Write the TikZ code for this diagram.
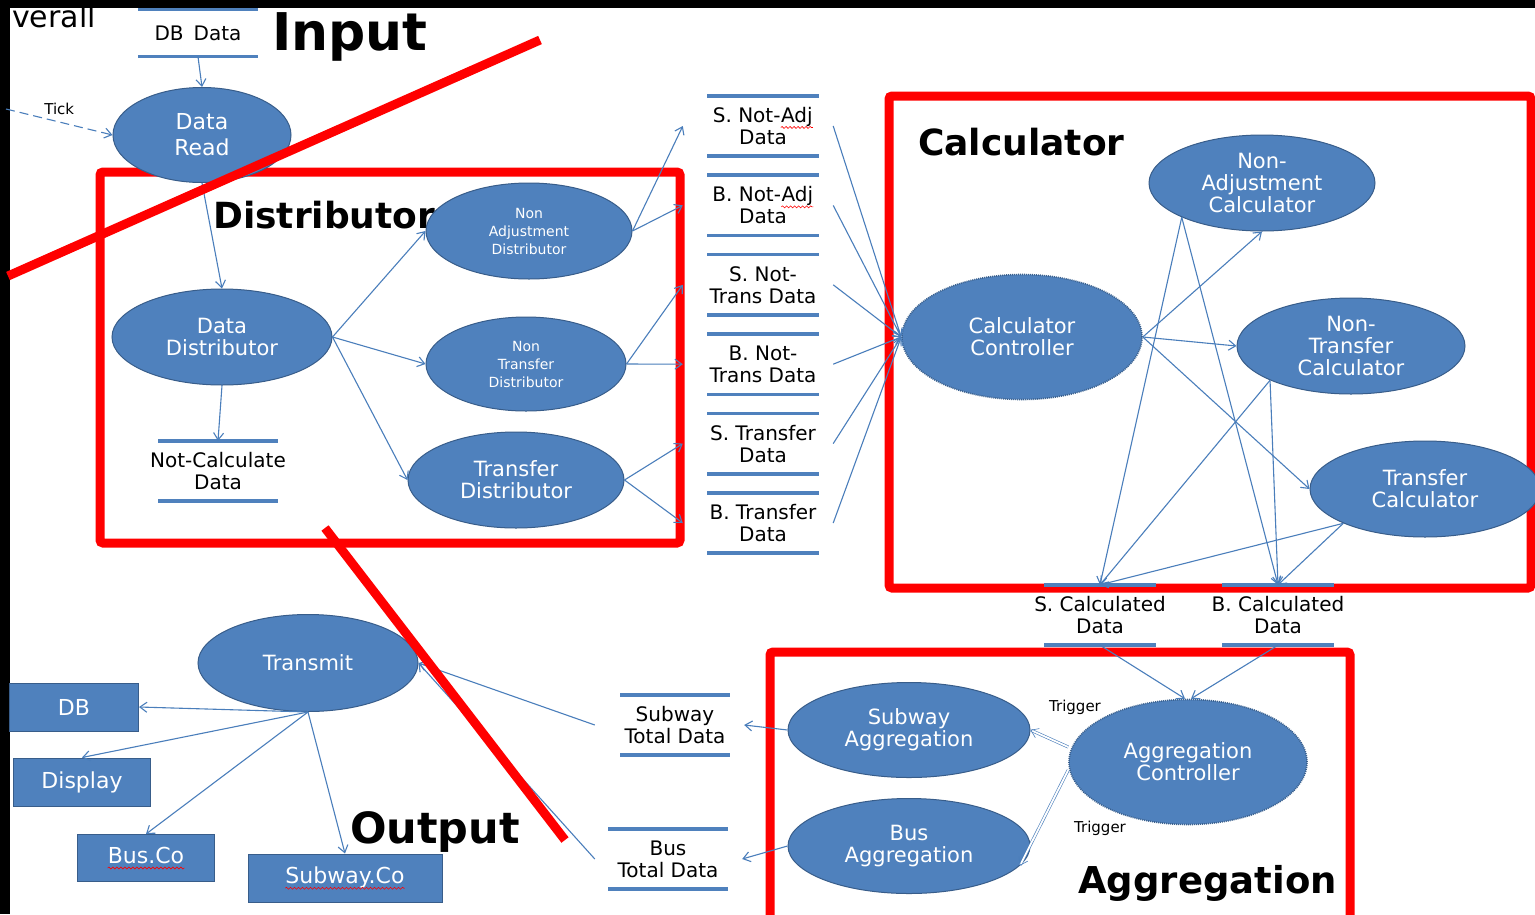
\documentclass[tikz,border=0pt]{standalone}
\usepackage{fontspec}
\setmainfont{DejaVu Sans}
\usetikzlibrary{arrows.meta, shapes.geometric, positioning, decorations.pathmorphing}

\definecolor{ellblue}{HTML}{4F81BD}
\definecolor{ellline}{HTML}{385D8A}
\definecolor{flowblue}{HTML}{4A7EBB}
\definecolor{zonered}{HTML}{FF0000}

% red spell-check squiggle under a word
\newcommand{\spellwave}[1]{\tikz[baseline=(w.base)]{\node[rectangle, draw=none, fill=none, anchor=center,
    inner sep=0pt, minimum width=0pt, minimum height=0pt] (w) {#1};
  \draw[zonered, line width=0.6pt, decorate, decoration={snake, amplitude=1pt, segment length=4pt}]
    ([yshift=-5pt]w.base west) -- ([yshift=-5pt]w.base east);}}

\tikzset{
  proc/.style={ellipse, fill=ellblue, draw=ellline, line width=1pt, text=white,
    align=center, inner sep=0pt, font=\fontsize{21}{22}\selectfont},
  tinyproc/.style={proc, font=\fontsize{14}{18}\selectfont},
  ctrl/.style={proc, draw=ellblue!75!black, densely dotted, line width=1.6pt},
  store/.style={align=center, inner sep=0pt, minimum width=112pt, minimum height=60pt,
    font=\fontsize{20}{22}\selectfont},
  storeline/.style={draw=ellblue, line width=3.5pt},
  sink/.style={fill=ellblue, draw=ellline, line width=1pt, text=white, inner sep=0pt,
    font=\fontsize{22}{24}\selectfont},
  flow/.style={draw=flowblue, line width=1.1pt, -{Straight Barb[length=7pt, width=10pt]}},
  trig/.style={flow, double=white, double distance=1.8pt, line width=0.6pt},
  zone/.style={draw=zonered, line width=9pt, rounded corners=3pt},
  cut/.style={draw=zonered, line width=9pt},
  zonelabel/.style={anchor=base west, inner sep=0pt, font=\fontsize{36}{40}\selectfont\bfseries},
  note/.style={inner sep=0pt, font=\fontsize{15}{17}\selectfont},
}

\begin{document}
\begin{tikzpicture}[x=1pt, y=-1pt, node distance=19pt]
  \useasboundingbox (0,0) rectangle (1535,914);
  \clip (0,0) rectangle (1535,914);
  \fill[black] (0,0) rectangle (1535,914);
  \fill[white] (10,8) rectangle (1535,914);

  % red zones
  \draw[zone] (100,172) rectangle (680,543);
  \draw[zone] (889,96) rectangle (1531,588);
  \draw[zone] (770,652) rectangle (1350,930);

  \node[anchor=base west, inner sep=0pt, font=\fontsize{30}{32}\selectfont] (overall) at (12,27) {verall};
  \node[zonelabel, font=\fontsize{52}{56}\selectfont\bfseries] (inlabel) at (272,50) {Input};
  \node[zonelabel] (distlabel) at (213,228) {Distributor};
  \node[zonelabel] (calclabel) at (918,155) {Calculator};
  \node[zonelabel, font=\fontsize{43}{46}\selectfont\bfseries] (outlabel) at (350,843) {Output};
  \node[zonelabel, font=\fontsize{37}{40}\selectfont\bfseries] (agglabel) at (1078,893) {Aggregation};

  % input
  \node[store, minimum width=120pt, minimum height=47pt] (dbdata) at (198,33) {DB\enspace Data};
  \node[proc, minimum width=178pt, minimum height=95pt, font=\fontsize{22}{26}\selectfont] (dataread) at (202,135) {Data\\Read};
  \coordinate (tick) at (6,109);

  % distributor
  \node[proc, minimum width=220pt, minimum height=96pt] (datadist) at (222,337) {Data\\Distributor};
  \node[tinyproc, minimum width=206pt, minimum height=96pt] (nadjdist) at (529,231) {Non\\Adjustment\\Distributor};
  \node[tinyproc, minimum width=200pt, minimum height=94pt] (ntrdist) at (526,364) {Non\\Transfer\\Distributor};
  \node[proc, minimum width=216pt, minimum height=96pt] (trdist) at (516,480) {Transfer\\Distributor};
  \node[store, minimum width=120pt] (notcalc) at (218,471) {Not-Calculate\\Data};

  \node[store] (snadj) at (763,126) {S. Not-\spellwave{Adj}\\Data};
  \node[store, below=of snadj] (bnadj) {B. Not-\spellwave{Adj}\\Data};
  \node[store, below=of bnadj] (sntr) {S. Not-\\Trans Data};
  \node[store, below=of sntr] (bntr) {B. Not-\\Trans Data};
  \node[store, below=of bntr] (strn) {S. Transfer\\Data};
  \node[store, below=of strn] (btrn) {B. Transfer\\Data};

  % calculator
  \node[ctrl, minimum width=240pt, minimum height=125pt] (calcctrl) at (1022,337) {Calculator\\Controller};
  \node[proc, minimum width=226pt, minimum height=96pt] (nadjcalc) at (1262,183) {Non-\\Adjustment\\Calculator};
  \node[proc, minimum width=228pt, minimum height=96pt] (ntrcalc) at (1351,346) {Non-\\Transfer\\Calculator};
  \node[proc, minimum width=230pt, minimum height=96pt] (trcalc) at (1425,489) {Transfer\\Calculator};
  \node[store] (scalc) at (1100,615) {S. Calculated\\Data};
  \node[store] (bcalc) at (1278,615) {B. Calculated\\Data};

  % aggregation
  \node[ctrl, minimum width=238pt, minimum height=125pt] (aggctrl) at (1188,762) {Aggregation\\Controller};
  \node[proc, minimum width=242pt, minimum height=95pt] (subagg) at (909,730) {Subway\\Aggregation};
  \node[proc, minimum width=242pt, minimum height=95pt] (busagg) at (909,846) {Bus\\Aggregation};
  \node[store, minimum width=110pt] (subtotal) at (675,725) {Subway\\Total Data};
  \node[store, minimum width=120pt] (bustotal) at (668,859) {Bus\\Total Data};
  \node[note] (trigup) at (1075,707) {Trigger};
  \node[note] (trigdown) at (1100,828) {Trigger};

  % output
  \node[proc, minimum width=220pt, minimum height=97pt] (transmit) at (308,663) {Transmit};
  \node[sink, minimum width=129pt, minimum height=48pt] (db) at (74,707) {DB};
  \node[sink, minimum width=137pt, minimum height=48pt] (display) at (82,782) {Display};
  \node[sink, minimum width=137pt, minimum height=47pt] (busco) at (146,858) {\spellwave{Bus.Co}};
  \node[sink, minimum width=194pt, minimum height=48pt] (subwayco) at (345,878) {\spellwave{Subway.Co}};

  \foreach \s/\w in {dbdata/60, notcalc/60, snadj/56, bnadj/56, sntr/56, bntr/56, strn/56, btrn/56,
                     scalc/56, bcalc/56, subtotal/55, bustotal/60}
    \draw[storeline] (\s.north) ++(-\w,0) -- ++(2*\w,0)
                     (\s.south) ++(-\w,0) -- ++(2*\w,0);

  % connectors
  \draw[flow] (dbdata.south) -- (dataread.north);
  \draw[flow, dash pattern=on 9pt off 5pt] (tick) -- node[note, above=7pt] {Tick} (dataread.west);
  \draw[flow] (dataread.south) -- (datadist.north);
  \draw[flow] (datadist.east) -- (nadjdist.west);
  \draw[flow] (datadist.east) -- (ntrdist.west);
  \draw[flow] (datadist.east) -- (trdist.west);
  \draw[flow] (datadist.south) -- (notcalc.north);
  \foreach \src/\dst in {nadjdist/snadj, nadjdist/bnadj, ntrdist/sntr, ntrdist/bntr, trdist/strn, trdist/btrn}
    \draw[flow] (\src.east) -- ([xshift=-24pt]\dst.west);
  \foreach \src in {snadj, bnadj, sntr, bntr, strn, btrn}
    \draw[flow] ([xshift=14pt]\src.east) -- (calcctrl.west);

  \foreach \dst in {nadjcalc.south, ntrcalc.west, trcalc.west}
    \draw[flow] (calcctrl.east) -- (\dst);
  \foreach \src in {nadjcalc, ntrcalc, trcalc} {
    \draw[flow] (\src.south west) -- (scalc.north);
    \draw[flow] (\src.south west) -- (bcalc.north);
  }

  \draw[flow] (scalc.south) -- ([xshift=-3pt]aggctrl.north);
  \draw[flow] (bcalc.south) -- ([xshift=3pt]aggctrl.north);
  \draw[trig] ([yshift=15pt]aggctrl.west) -- (subagg.east);
  \draw[trig] ([yshift=-8pt]aggctrl.west) -- (busagg.-10);
  \draw[flow] (subagg.west) -- ([xshift=14pt]subtotal.east);
  \draw[flow] (busagg.west) -- ([xshift=14pt]bustotal.east);

  \draw[flow] ([xshift=-25pt]subtotal.west) -- (transmit.east);
  \draw[flow] ([xshift=-13pt]bustotal.west) -- (transmit.east);
  \foreach \dst in {db.east, display.north, busco.north, subwayco.north}
    \draw[flow] (transmit.south) -- (\dst);

  % cut lines
  \draw[cut] (8,276) -- (540,40);
  \draw[cut] (325,528) -- (565,840);
\end{tikzpicture}
\end{document}
